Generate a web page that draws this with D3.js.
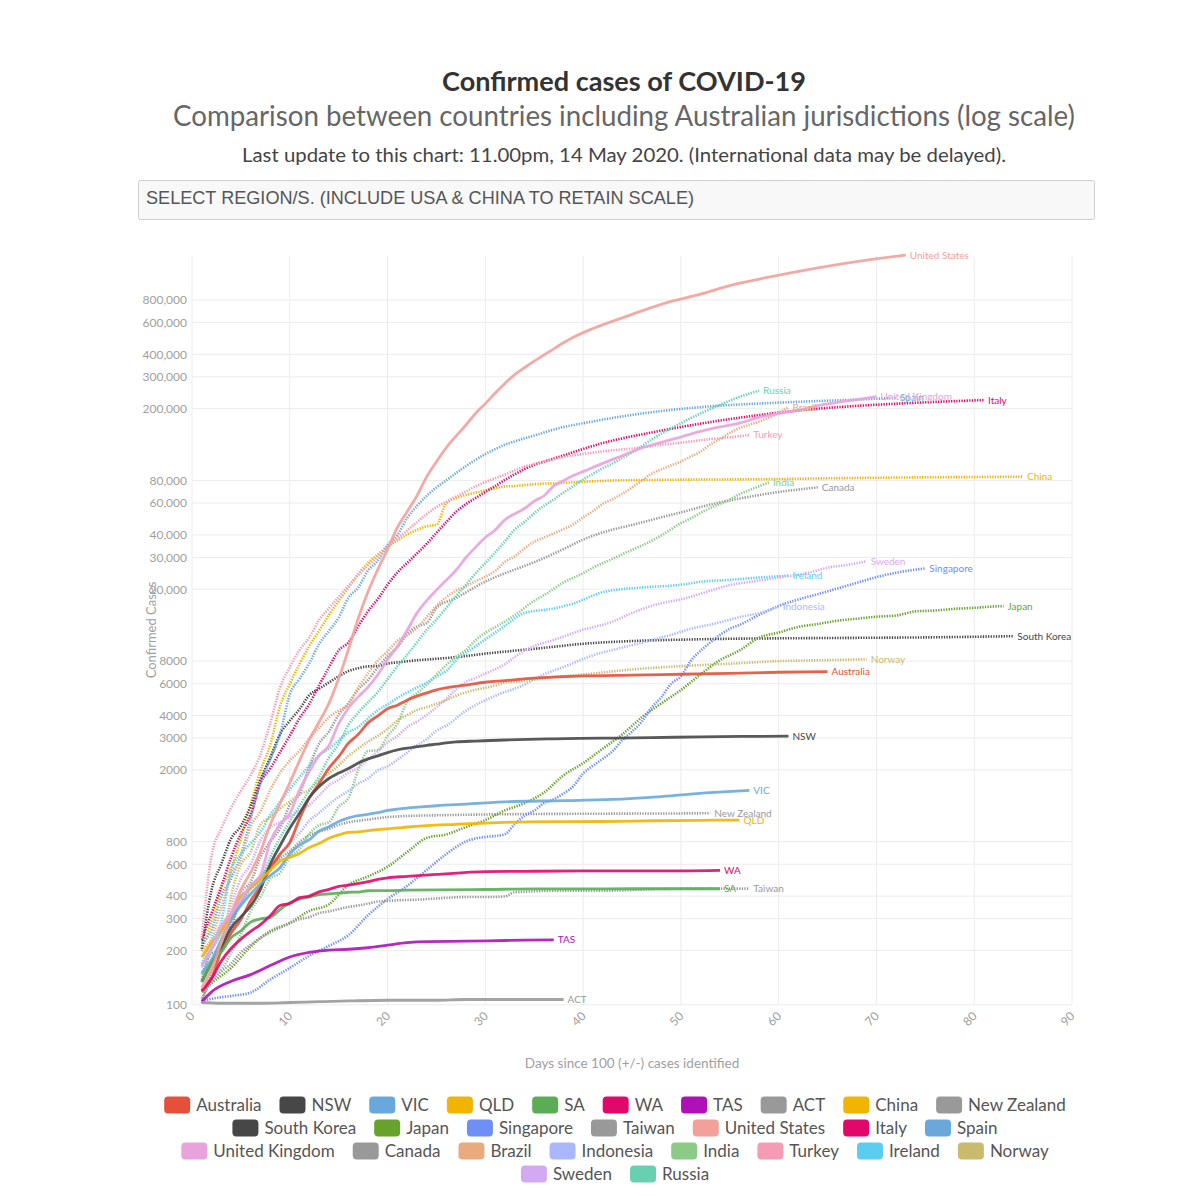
<!DOCTYPE html>
<html><head><meta charset="utf-8">
<script src="https://cdn.jsdelivr.net/npm/d3@7"></script>
<style>
html,body{margin:0;padding:0;background:#fff;}
svg{display:block;}
</style></head>
<body>
<svg id="chart" width="1200" height="1196"></svg>
<script>
// ---------------- DATA ----------------
const titleText = "Confirmed cases of COVID-19";
const subtitleText = "Comparison between countries including Australian jurisdictions (log scale)";
const updateText = "Last update to this chart: 11.00pm, 14 May 2020. (International data may be delayed).";
const dropdownText = "SELECT REGION/S. (INCLUDE USA & CHINA TO RETAIN SCALE)";
const xTitle = "Days since 100 (+/-) cases identified";
const yTitle = "Confirmed Cases";
const xTicks = [0,10,20,30,40,50,60,70,80,90];
const yTicks = [100,200,300,400,600,800,2000,3000,4000,6000,8000,20000,30000,40000,60000,80000,200000,300000,400000,600000,800000];

const seriesNames = ["Australia","NSW","VIC","QLD","SA","WA","TAS","ACT","China","New Zealand",
  "South Korea","Japan","Singapore","Taiwan","United States","Italy","Spain",
  "United Kingdom","Canada","Brazil","Indonesia","India","Turkey","Ireland","Norway",
  "Sweden","Russia"];

const australia = [[1,118],[2,140],[3,200],[4,250],[5,297],[6,377],[7,452],[8,568],[9,681],[10,791],[11,1071],[12,1400],[13,1682],[14,2044],[15,2364],[16,2810],[17,3143],[18,3640],[19,3984],[20,4361],[21,4559],[22,4862],[23,5116],[24,5330],[25,5550],[26,5687],[27,5797],[28,5895],[29,6010],[30,6108],[32,6238],[35,6447],[40,6619],[45,6694],[50,6766],[55,6849],[60,6941],[65,6989]];
const nsw = [[1,134],[2,171],[3,210],[4,267],[5,307],[6,353],[7,436],[8,600],[9,760],[10,950],[11,1150],[12,1405],[13,1617],[14,1791],[15,1918],[16,2032],[17,2182],[18,2298],[19,2389],[20,2493],[21,2580],[22,2637],[23,2686],[24,2734],[25,2773],[26,2822],[27,2857],[29,2886],[32,2926],[37,2969],[42,2994],[47,3016],[52,3047],[57,3063],[61,3074]];
const vic = [[1,150],[2,178],[3,229],[4,296],[5,355],[6,411],[7,466],[8,520],[9,574],[10,685],[11,769],[12,821],[13,917],[14,968],[15,1036],[16,1085],[17,1115],[18,1135],[19,1158],[20,1191],[21,1212],[22,1228],[23,1241],[25,1265],[28,1291],[33,1336],[38,1349],[43,1371],[48,1423],[53,1494],[57,1540]];
const qld = [[1,184],[2,221],[3,259],[4,319],[5,397],[6,443],[7,493],[8,555],[9,625],[10,656],[11,689],[12,743],[13,781],[14,835],[15,873],[16,900],[17,907],[18,921],[19,934],[20,943],[21,953],[22,965],[24,983],[27,999],[32,1024],[37,1033],[42,1035],[47,1045],[52,1051],[56,1054]];
const sa = [[1,134],[2,170],[3,197],[4,235],[5,257],[6,287],[7,299],[8,305],[9,337],[10,367],[11,385],[12,396],[13,407],[14,411],[15,415],[16,420],[17,421],[18,428],[19,429],[20,429],[22,431],[25,433],[30,435],[35,438],[40,438],[45,439],[50,439],[54,439]];
const wa = [[1,120],[2,140],[3,175],[4,205],[5,231],[6,255],[7,278],[8,311],[9,355],[10,364],[11,392],[12,400],[13,422],[14,436],[15,453],[16,460],[17,470],[18,481],[19,495],[20,505],[22,514],[25,527],[30,546],[35,549],[40,551],[45,552],[50,552],[54,555]];
const tas = [[1,104],[2,118],[4,135],[6,147],[8,165],[10,184],[12,195],[14,201],[16,203],[18,207],[20,214],[22,221],[24,224],[28,225],[32,227],[37,229]];
const act = [[1,103],[3,102],[7,102],[10,103],[13,104],[16,105],[20,106],[25,106],[28,107],[32,107],[38,107]];
const china = [[1,198],[2,291],[3,440],[4,571],[5,830],[6,1287],[7,1975],[8,2744],[9,4515],[10,5974],[11,7711],[12,9692],[13,11791],[14,14380],[15,17205],[16,20438],[17,24324],[18,28018],[19,31161],[20,34546],[21,37198],[22,40171],[23,42638],[24,44653],[25,45500],[26,59804],[27,63851],[28,66492],[29,68500],[30,70548],[31,72436],[32,74185],[33,74576],[34,75465],[35,76288],[36,76936],[37,77150],[38,77658],[40,78630],[43,80026],[46,80422],[50,80859],[55,81102],[60,81498],[65,82294],[70,82883],[75,83305],[80,83597],[85,84024]];
const newZealand = [[1,102],[2,155],[3,205],[4,283],[5,368],[6,451],[7,514],[8,589],[9,647],[10,708],[11,797],[12,868],[13,911],[14,943],[15,992],[16,1024],[18,1061],[20,1095],[22,1110],[25,1120],[28,1128],[32,1135],[36,1140],[40,1142],[45,1145],[50,1147],[53,1150]];
const southKorea = [[1,204],[2,433],[3,602],[4,833],[5,977],[6,1261],[7,1766],[8,2337],[9,3150],[10,3736],[11,4335],[12,5186],[13,5621],[14,6088],[15,6593],[16,7041],[17,7313],[18,7478],[19,7513],[20,7755],[21,7869],[22,7979],[23,8086],[24,8162],[25,8236],[27,8413],[30,8799],[33,9137],[36,9478],[40,9976],[45,10331],[50,10512],[55,10635],[60,10694],[65,10738],[70,10780],[75,10822],[80,10909],[84,10991]];
const japan = [[1,118],[2,132],[4,160],[6,210],[8,256],[10,284],[12,331],[14,360],[16,461],[18,514],[20,581],[22,701],[24,839],[26,878],[28,963],[30,1054],[32,1193],[34,1307],[36,1499],[38,1866],[40,2178],[42,2617],[44,3139],[46,3906],[48,4667],[50,5530],[52,6748],[54,8100],[56,9167],[58,10797],[60,11512],[62,12368],[64,12829],[66,13385],[68,13736],[70,14088],[72,14305],[74,15078],[76,15253],[78,15575],[80,15777],[82,16049],[83,16120]];
const singapore = [[1,105],[2,108],[4,112],[6,117],[8,138],[10,160],[12,187],[14,212],[16,243],[18,313],[20,385],[22,455],[24,558],[26,683],[28,802],[30,850],[31,860],[32,880],[33,1000],[34,1114],[35,1189],[36,1309],[37,1375],[38,1481],[39,1623],[40,1910],[41,2108],[42,2299],[43,2532],[44,2918],[45,3252],[46,3699],[47,4427],[48,5050],[49,5992],[50,6588],[51,8014],[52,9125],[53,10141],[54,11178],[55,12075],[56,12693],[58,14423],[60,16169],[62,17548],[64,18778],[66,20198],[68,21707],[70,23336],[72,24671],[75,26098]];
const taiwan = [[1,108],[2,135],[3,153],[4,169],[5,195],[6,215],[7,235],[8,252],[9,267],[10,283],[11,298],[12,306],[13,322],[14,329],[15,339],[16,348],[17,355],[18,363],[19,373],[20,376],[21,379],[23,382],[25,388],[28,395],[30,395],[32,398],[33,420],[35,425],[38,429],[43,429],[48,438],[53,440],[57,440]];
const unitedStates = [[1,124],[2,158],[3,221],[4,319],[5,435],[6,541],[7,704],[8,994],[9,1301],[10,1697],[11,2247],[12,2943],[13,3680],[14,4663],[15,6411],[16,9259],[17,13789],[18,19383],[19,25680],[20,33276],[21,43843],[22,53736],[23,65778],[24,83836],[25,101657],[26,121465],[27,140909],[28,161831],[29,188172],[30,213242],[31,243622],[32,275367],[33,308650],[34,336802],[35,366317],[36,397121],[37,428654],[38,462780],[39,496535],[41,555313],[44,636350],[49,784326],[52,860000],[55,960000],[59,1069424],[64,1204351],[69,1329260],[73,1417774]];
const italy = [[1,229],[2,322],[3,453],[4,655],[5,888],[6,1128],[7,1694],[8,2036],[9,2502],[10,3089],[11,3858],[12,4636],[13,5883],[14,7375],[15,9172],[16,10149],[17,12462],[18,15113],[19,17660],[20,21157],[21,24747],[22,27980],[23,31506],[24,35713],[25,41035],[26,47021],[27,53578],[28,59138],[29,63927],[30,69176],[31,74386],[32,80589],[33,86498],[34,92472],[35,97689],[36,101739],[37,105792],[42,128948],[47,147577],[52,165155],[57,181228],[62,195351],[67,205463],[72,213013],[77,219070],[81,223096]];
const spain = [[1,222],[2,259],[3,400],[4,500],[5,673],[6,1073],[7,1695],[8,2277],[9,3146],[10,5232],[11,6391],[12,7798],[13,9942],[14,11748],[15,13910],[16,17963],[17,20410],[18,25374],[19,28768],[20,35136],[21,39885],[22,49515],[23,57786],[24,65719],[25,73235],[26,80110],[27,87956],[28,95923],[29,104118],[30,112065],[31,119199],[32,126168],[33,131646],[35,141942],[38,158273],[40,166019],[43,177644],[48,194000],[53,205905],[58,213435],[63,219329],[68,224350],[72,229540]];
const unitedKingdom = [[1,164],[2,207],[3,274],[4,322],[5,384],[6,459],[7,520],[8,801],[9,1000],[10,1143],[11,1551],[12,1960],[13,2400],[14,2716],[15,3600],[16,4400],[17,5067],[18,5745],[19,6726],[20,8164],[21,9640],[22,11812],[23,14745],[24,17312],[25,19780],[26,22453],[27,25481],[28,29865],[29,34173],[30,38689],[31,42477],[32,48436],[33,52279],[34,55949],[35,61474],[36,65872],[37,74605],[38,79874],[39,85206],[40,89570],[42,99483],[44,109769],[46,121172],[48,130172],[50,139246],[52,149569],[54,158348],[56,166441],[58,178685],[60,187842],[62,195524],[64,207977],[66,216525],[68,224332],[70,233151]];
const canada = [[1,138],[2,193],[3,198],[4,252],[5,415],[6,478],[7,657],[8,800],[9,943],[10,1277],[11,1469],[12,2088],[13,2790],[14,3251],[15,4042],[16,4682],[17,5576],[18,6280],[19,7398],[20,8527],[21,9560],[22,11284],[23,12437],[24,12978],[25,15756],[27,17872],[30,22059],[33,25680],[35,28208],[38,33383],[40,37658],[43,42750],[45,45354],[48,50026],[50,53236],[53,58848],[55,62046],[58,66434],[60,69156],[62,71264],[64,73401]];
const brazil = [[1,200],[2,234],[3,346],[4,529],[5,640],[6,970],[7,1178],[8,1546],[9,1924],[10,2247],[11,2554],[12,2985],[13,3417],[14,3904],[15,4256],[16,4579],[17,5717],[18,6836],[19,8044],[20,9056],[21,10360],[22,11130],[23,12161],[24,14034],[25,16170],[26,18092],[27,19638],[28,20727],[29,22192],[30,23430],[31,25262],[32,28320],[33,30425],[34,33682],[35,36658],[36,38654],[37,40743],[38,43079],[39,45757],[40,50036],[41,54043],[42,59324],[43,63100],[44,67446],[45,73235],[46,79685],[47,87187],[48,92202],[49,97100],[50,101826],[51,108620],[52,115455],[53,126611],[54,135773],[55,146894],[56,156061],[57,162699],[58,169594],[59,178214],[60,190137],[61,202918]];
const indonesia = [[1,134],[2,172],[3,227],[4,311],[5,369],[6,450],[7,514],[8,579],[9,686],[10,790],[11,893],[12,1046],[13,1155],[14,1285],[15,1414],[16,1528],[17,1677],[18,1790],[19,1986],[20,2092],[21,2273],[22,2491],[23,2738],[24,2956],[25,3293],[26,3512],[28,4241],[31,5136],[34,5923],[36,6760],[38,7418],[41,8607],[44,9511],[46,10118],[49,11192],[51,12071],[54,13112],[56,14032],[58,14749],[60,16006]];
const india = [[1,119],[2,142],[3,156],[4,194],[5,244],[6,330],[7,396],[8,499],[9,536],[10,657],[11,727],[12,887],[13,987],[14,1024],[15,1251],[16,1397],[17,1998],[18,2543],[19,2567],[20,3082],[21,3588],[22,4778],[23,5311],[24,5916],[25,6725],[26,7598],[27,8446],[28,9205],[29,10453],[30,11487],[31,12322],[33,14352],[35,17265],[36,18539],[38,21797],[40,24530],[41,26283],[43,29451],[45,33062],[46,34863],[48,39699],[50,46437],[51,49400],[53,56342],[55,62808],[56,67161],[57,70768],[58,74292],[59,78055]];
const turkey = [[1,236],[2,670],[3,947],[4,1236],[5,1529],[6,1872],[7,2433],[8,3629],[9,5698],[10,7402],[11,9217],[12,10827],[13,13531],[14,15679],[15,18135],[16,20921],[17,23934],[18,27069],[19,30217],[20,34109],[21,38226],[22,42282],[23,47029],[24,52167],[25,56956],[26,61049],[27,65111],[28,69392],[29,74193],[30,78546],[31,82329],[32,86306],[33,90980],[34,95591],[35,98674],[36,101790],[37,104912],[38,107773],[40,112261],[43,117589],[45,120204],[48,126045],[50,129491],[53,135569],[55,138657],[57,143114]];
const ireland = [[1,169],[2,223],[3,292],[4,557],[5,683],[6,785],[7,906],[8,1125],[9,1329],[10,1564],[11,1819],[12,2121],[13,2415],[14,2615],[15,2910],[16,3235],[17,3447],[18,3849],[19,4273],[20,4604],[21,4994],[22,5364],[23,5709],[24,6074],[25,6574],[26,7054],[27,8089],[29,9655],[32,12547],[34,14758],[37,15652],[39,16671],[42,19262],[45,20253],[47,20612],[50,21176],[52,21983],[55,22541],[57,22996],[59,23401],[61,23827]];
const norway = [[1,147],[2,176],[3,205],[4,400],[5,598],[6,702],[7,996],[8,1090],[9,1221],[10,1333],[11,1463],[12,1550],[13,1746],[14,1914],[15,2118],[16,2385],[17,2621],[18,2863],[19,3084],[20,3369],[21,3755],[22,4015],[23,4284],[24,4445],[25,4641],[26,4863],[27,5147],[28,5370],[29,5550],[30,5687],[31,5865],[32,6086],[34,6211],[35,6314],[37,6525],[40,6740],[45,7191],[50,7499],[55,7738],[60,7996],[65,8099],[69,8196]];
const sweden = [[1,161],[2,203],[3,248],[4,355],[5,500],[6,599],[7,814],[8,961],[9,1022],[10,1103],[11,1190],[12,1279],[13,1439],[14,1639],[15,1763],[16,1934],[17,2046],[18,2286],[19,2526],[20,2840],[21,3069],[22,3447],[23,3700],[24,4028],[25,4435],[26,4947],[27,5568],[28,6131],[29,6443],[30,6830],[31,7206],[32,7693],[33,8419],[34,9141],[35,9685],[37,10483],[40,11927],[43,13216],[45,14777],[48,16755],[50,17567],[53,19621],[55,21092],[58,22317],[60,23216],[63,24623],[65,26322],[67,27272],[69,28582]];
const russia = [[1,147],[2,199],[3,253],[4,306],[5,367],[6,438],[7,495],[8,658],[9,840],[10,1036],[11,1264],[12,1534],[13,1836],[14,2337],[15,2777],[16,3548],[17,4149],[18,4731],[19,5389],[20,6343],[21,7497],[22,8672],[23,10131],[24,11917],[25,13584],[26,15770],[27,18328],[28,21102],[29,24490],[30,27938],[31,32008],[32,36793],[33,42853],[34,47121],[35,52763],[36,57999],[37,62773],[38,68622],[39,74588],[40,80949],[41,87147],[42,93558],[43,99399],[44,106498],[45,114431],[46,124054],[47,134687],[48,145268],[49,155370],[50,165929],[51,177160],[52,187859],[53,198676],[54,209688],[55,221344],[56,232243],[57,242271],[58,252245]];

const seriesValues = [australia,nsw,vic,qld,sa,wa,tas,act,china,newZealand,
  southKorea,japan,singapore,taiwan,unitedStates,italy,spain,
  unitedKingdom,canada,brazil,indonesia,india,turkey,ireland,norway,sweden,russia];

// ---------------- STYLE ----------------
const palette = ["#e4503a","#474747","#6aa8dc","#f1b400","#5aad55","#e2086b","#b010b8","#999999","#f1b400","#999999",
  "#474747","#66a22c","#6e8ef8","#999999","#f4a09a","#e2086b","#6aa8dc",
  "#e8a2dc","#999999","#e9aa7e","#aab8fb","#8ccb86","#f59bb5","#5ccdf1","#c9ba6e","#d4a9f4","#66d0b0"];
const solidSet = new Set(["Australia","NSW","VIC","QLD","SA","WA","TAS","ACT","United States","United Kingdom"]);
const legendRows = [10,7,8,2];

const svg = d3.select("#chart");
const FONT = "Lato, 'Open Sans', sans-serif";

// Titles
svg.append("text").attr("x",624).attr("y",91).attr("text-anchor","middle")
  .attr("font-family",FONT).attr("font-weight","bold").attr("font-size",26).attr("fill","#333")
  .attr("textLength",364).attr("lengthAdjust","spacingAndGlyphs").text(titleText);
svg.append("text").attr("x",624).attr("y",126).attr("text-anchor","middle")
  .attr("font-family",FONT).attr("font-size",28).attr("fill","#666")
  .attr("textLength",902).attr("lengthAdjust","spacingAndGlyphs").text(subtitleText);
svg.append("text").attr("x",624).attr("y",162).attr("text-anchor","middle")
  .attr("font-family",FONT).attr("font-size",19.5).attr("fill","#444")
  .attr("textLength",764).attr("lengthAdjust","spacingAndGlyphs").text(updateText);

// Dropdown
svg.append("rect").attr("x",138.5).attr("y",180.5).attr("width",956).attr("height",39)
  .attr("fill","#f8f8f8").attr("stroke","#cfcfcf").attr("rx",2);
svg.append("text").attr("x",146).attr("y",204).attr("font-family","'Liberation Sans', Arial, sans-serif")
  .attr("font-size",18).attr("fill","#555").attr("textLength",548).attr("lengthAdjust","spacingAndGlyphs")
  .text(dropdownText);

// Scales
const x = d3.scaleLinear().domain([0,90]).range([192,1072]);
const y = d3.scaleLog().domain([100,1.4e6]).range([1004.8,256]);

// Grid
const grid = svg.append("g");
grid.selectAll("line.v").data(xTicks).join("line")
  .attr("x1",d=>x(d)).attr("x2",d=>x(d)).attr("y1",256).attr("y2",1004.8)
  .attr("stroke","#ececec").attr("stroke-width",1);
grid.selectAll("line.h").data(yTicks).join("line")
  .attr("x1",192).attr("x2",1072).attr("y1",d=>y(d)).attr("y2",d=>y(d))
  .attr("stroke","#ececec").attr("stroke-width",1);

// Y axis labels
const fmt = v => v >= 10000 ? d3.format(",")(v) : String(v);
const yAxis = d3.axisLeft(y).tickValues(yTicks).tickFormat(fmt).tickSize(0).tickPadding(5);
const yg = svg.append("g").attr("transform","translate(192,0)").call(yAxis);
yg.select(".domain").remove();
yg.selectAll("text").attr("font-family",FONT).attr("font-size",12).attr("fill","#a0a0a0");

// X axis labels
const xAxis = d3.axisBottom(x).tickValues(xTicks).tickSize(0).tickPadding(0);
const xg = svg.append("g").attr("transform","translate(0,1004.8)").call(xAxis);
xg.select(".domain").remove();
xg.selectAll("text").attr("font-family",FONT).attr("font-size",12).attr("fill","#a0a0a0")
  .attr("text-anchor","end").attr("dy",null).attr("y",null)
  .attr("transform","translate(3,12) rotate(-45)");

// Axis titles
svg.append("text").attr("x",632).attr("y",1068).attr("text-anchor","middle")
  .attr("font-family",FONT).attr("font-size",13.5).attr("fill","#a0a0a0").text(xTitle);
svg.append("text").attr("transform","translate(156,630) rotate(-90)").attr("text-anchor","middle")
  .attr("font-family",FONT).attr("font-size",13).attr("fill","#a0a0a0").text(yTitle);

// Lines
const line = d3.line().x(d=>x(d[0])).y(d=>y(d[1])).curve(d3.curveMonotoneX);
const lines = svg.append("g");
const order = d3.range(seriesNames.length).sort((a,b)=> (solidSet.has(seriesNames[a])?1:0) - (solidSet.has(seriesNames[b])?1:0));
order.forEach(i=>{
  const name = seriesNames[i];
  const solid = solidSet.has(name);
  lines.append("path").datum(seriesValues[i]).attr("d",line)
    .attr("fill","none").attr("stroke",palette[i])
    .attr("stroke-width", solid ? 2.8 : 2.6)
    .attr("stroke-dasharray", solid ? null : "1.3,1.3")
    .attr("stroke-opacity", solid ? 0.9 : 1)
    .attr("stroke-linejoin","round");
});
// End labels
seriesNames.forEach((name,i)=>{
  const last = seriesValues[i][seriesValues[i].length-1];
  svg.append("text").attr("x",x(last[0])+4).attr("y",y(last[1])).attr("dy","0.35em")
    .attr("font-family",FONT).attr("font-size",10).attr("fill",palette[i]).text(name);
});

// Legend
const leg = svg.append("g");
let idx = 0;
legendRows.forEach((count,r)=>{
  const rowG = leg.append("g");
  let cx = 0;
  for(let k=0;k<count;k++,idx++){
    const g = rowG.append("g").attr("transform",`translate(${cx},0)`);
    g.append("rect").attr("x",0).attr("y",-8.5).attr("width",26).attr("height",17).attr("rx",4).attr("fill",palette[idx]);
    const t = g.append("text").attr("x",32).attr("y",0).attr("dy","0.35em")
      .attr("font-family",FONT).attr("font-size",17).attr("fill","#555").text(seriesNames[idx]);
    cx += 32 + t.node().getComputedTextLength() + 18;
  }
  const w = cx - 18;
  rowG.attr("transform",`translate(${615 - w/2},${1105 + r*23})`);
});
</script>
</body></html>
